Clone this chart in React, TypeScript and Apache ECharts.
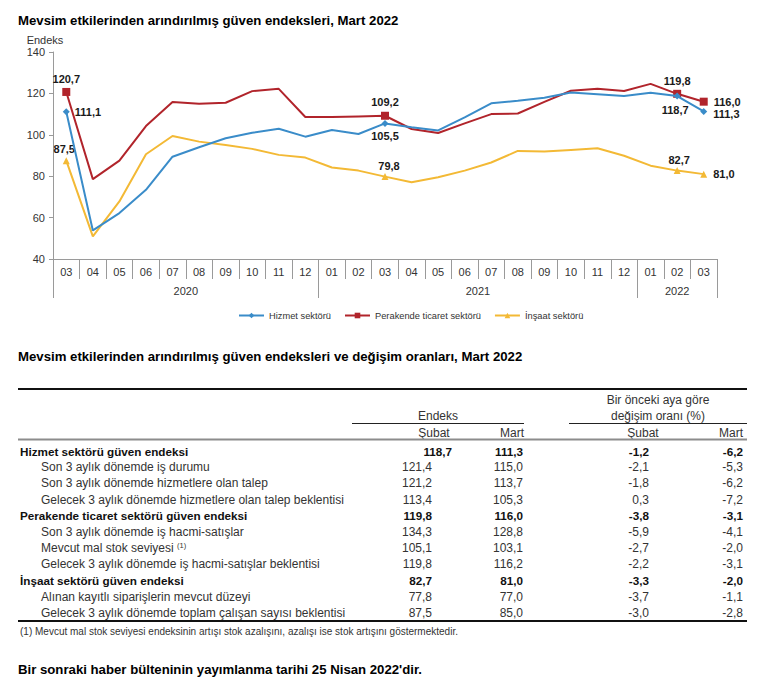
import React, { useEffect, useRef } from 'react';
import * as echarts from 'echarts';

// ---------- chart data ----------
const months = ['03','04','05','06','07','08','09','10','11','12','01','02','03','04','05','06','07','08','09','10','11','12','01','02','03'];
const firstYear = 2020;
const seriesNames = ['Hizmet sektörü', 'Perakende ticaret sektörü', 'İnşaat sektörü'];
const hizmet = [111.1, 53.8, 62.2, 73.4, 89.4, 94.0, 98.3, 101.0, 102.9, 99.1, 102.3, 100.4, 105.5, 103.6, 102.1, 108.4, 115.2, 116.4, 117.9, 120.4, 119.6, 118.8, 120.3, 118.7, 111.3];
const perakende = [120.7, 78.6, 87.5, 104.2, 115.9, 115.0, 115.5, 121.1, 122.2, 108.6, 108.6, 108.9, 109.2, 102.8, 100.9, 105.5, 110.0, 110.3, 115.9, 121.3, 122.2, 121.2, 124.6, 119.8, 116.0];
const insaat = [87.5, 50.9, 67.8, 90.6, 99.4, 96.7, 95.1, 93.2, 90.3, 89.0, 84.2, 82.7, 79.8, 77.1, 79.5, 82.7, 86.6, 92.2, 91.9, 92.7, 93.5, 89.9, 85.1, 82.7, 81.0];
const yTicks = [40, 60, 80, 100, 120, 140];

// ---------- table data ----------
const rowLabels = [
  'Hizmet sektörü güven endeksi',
  'Son 3 aylık dönemde iş durumu',
  'Son 3 aylık dönemde hizmetlere olan talep',
  'Gelecek 3 aylık dönemde hizmetlere olan talep beklentisi',
  'Perakende ticaret sektörü güven endeksi',
  'Son 3 aylık dönemde iş hacmi-satışlar',
  'Mevcut mal stok seviyesi',
  'Gelecek 3 aylık dönemde iş hacmi-satışlar beklentisi',
  'İnşaat sektörü güven endeksi',
  'Alınan kayıtlı siparişlerin mevcut düzeyi',
  'Gelecek 3 aylık dönemde toplam çalışan sayısı beklentisi',
];
const rowLevel = [0, 1, 1, 1, 0, 1, 1, 1, 0, 1, 1];
const rowNote = ['', '', '', '', '', '', '(1)', '', '', '', ''];
const endeksSubat = [118.7, 121.4, 121.2, 113.4, 119.8, 134.3, 105.1, 119.8, 82.7, 77.8, 87.5];
const endeksMart = [111.3, 115.0, 113.7, 105.3, 116.0, 128.8, 103.1, 116.2, 81.0, 77.0, 85.0];
const degisimSubat = [-1.2, -2.1, -1.8, 0.3, -3.8, -5.9, -2.7, -2.2, -3.3, -3.7, -3.0];
const degisimMart = [-6.2, -5.3, -6.2, -7.2, -3.1, -4.1, -2.0, -3.1, -2.0, -1.1, -2.8];

const title1 = 'Mevsim etkilerinden arındırılmış güven endeksleri, Mart 2022';
const title2 = 'Mevsim etkilerinden arındırılmış güven endeksleri ve değişim oranları, Mart 2022';
const footnote = '(1) Mevcut mal stok seviyesi endeksinin artışı stok azalışını, azalışı ise stok artışını göstermektedir.';
const closing = "Bir sonraki haber bülteninin yayımlanma tarihi 25 Nisan 2022'dir.";

// ---------- styles ----------
const FONT = "'Liberation Sans', Arial, sans-serif";
const COLORS = ['#3A8CC9', '#B1242B', '#F3B935'];
const SYMBOLS = ['diamond', 'rect', 'triangle'];
const SYMBOL_SIZES = [7, 8, 7];
type LabelCfg = { position: string; offset?: number[]; distance?: number };
const labelCfgs: Record<number, LabelCfg>[] = [
  { 0: { position: 'right', distance: 5 }, 12: { position: 'bottom', distance: 4 }, 23: { position: 'bottom', distance: 5, offset: [-2, 0] }, 24: { position: 'right', distance: 6, offset: [0, 3] } },
  { 0: { position: 'top', distance: 3 }, 12: { position: 'top', distance: 4 }, 23: { position: 'top', distance: 3 }, 24: { position: 'right', distance: 6 } },
  { 0: { position: 'top', distance: 3, offset: [-2, 0] }, 12: { position: 'top', distance: 2, offset: [4, 0] }, 23: { position: 'top', distance: 2, offset: [2, 0] }, 24: { position: 'right', distance: 6 } },
];

const fmt = (v: number) => v.toFixed(1).replace('.', ',');

function buildData(values: number[], cfg: Record<number, LabelCfg>, size: number) {
  return values.map((v, i) => {
    const c = cfg[i];
    if (!c) return { value: v, symbolSize: 0 };
    return {
      value: v,
      symbolSize: size,
      label: { show: true, position: c.position, distance: c.distance ?? 4, offset: c.offset || [0, 0] },
    };
  });
}

function txt(x: number, y: number, text: string, opts: any = {}) {
  const align = opts.align || 'left';
  return {
    type: 'text',
    x,
    y,
    silent: true,
    style: {
      text,
      fill: opts.color || '#1a1a1a',
      font: `${opts.bold ? 'bold ' : ''}${opts.size || 12}px ${FONT}`,
      align,
      textAlign: align,
      verticalAlign: 'middle',
      textVerticalAlign: 'middle',
      rich: opts.rich,
    },
  };
}

function hline(x1: number, x2: number, y: number, color: string, w: number) {
  return { type: 'line', silent: true, shape: { x1, y1: y, x2, y2: y }, style: { stroke: color, lineWidth: w } };
}

function buildTable(): any[] {
  const els: any[] = [];
  const L = 18, R = 747;
  els.push(txt(18, 20, title1, { bold: true, size: 13.2, color: '#000' }));
  els.push(txt(18, 356, title2, { bold: true, size: 13.2, color: '#000' }));
  els.push(hline(L, R, 389, '#111', 2));
  els.push(txt(658, 400, 'Bir önceki aya göre', { align: 'center', color: '#333' }));
  els.push(txt(658, 416, 'değişim oranı (%)', { align: 'center', color: '#333' }));
  els.push(txt(438, 416, 'Endeks', { align: 'center', color: '#333' }));
  els.push(hline(352, 524, 423.5, '#222', 1));
  els.push(hline(569, R, 423.5, '#222', 1));
  els.push(txt(434, 433, 'Şubat', { align: 'center', color: '#333' }));
  els.push(txt(524, 433, 'Mart', { align: 'right', color: '#333' }));
  els.push(txt(643, 433, 'Şubat', { align: 'center', color: '#333' }));
  els.push(txt(743, 433, 'Mart', { align: 'right', color: '#333' }));
  els.push(hline(L, R, 439.5, '#8c8c8c', 2));
  const y0 = 451, step = 16.2;
  rowLabels.forEach((label, i) => {
    const y = y0 + step * i;
    const bold = rowLevel[i] === 0;
    const color = bold ? '#111' : '#333';
    const x = bold ? 20 : 41;
    const fs = bold ? 11.7 : 12;
    if (rowNote[i]) {
      els.push(txt(x, y, `{a|${label}} {n|${rowNote[i]}}`, {
        bold, color, size: fs,
        rich: {
          a: { font: `${bold ? 'bold ' : ''}${fs}px ${FONT}`, fill: color, lineHeight: 14 },
          n: { font: `7.5px ${FONT}`, fill: color, padding: [0, 0, 6, 0] },
        },
      }));
    } else {
      els.push(txt(x, y, label, { bold, color, size: fs }));
    }
    const subRight = i === 0 ? 452 : 432;
    els.push(txt(subRight, y, fmt(endeksSubat[i]), { bold, color, align: 'right', size: fs }));
    els.push(txt(523, y, fmt(endeksMart[i]), { bold, color, align: 'right', size: fs }));
    els.push(txt(649, y, fmt(degisimSubat[i]), { bold, color, align: 'right', size: fs }));
    els.push(txt(743, y, fmt(degisimMart[i]), { bold, color, align: 'right', size: fs }));
  });
  els.push(hline(L, R, 621, '#111', 2));
  els.push(txt(20, 631, footnote, { size: 10, color: '#333' }));
  els.push(txt(18, 669, closing, { bold: true, size: 13.2, color: '#000' }));
  return els;
}

export default function App() {
  const ref = useRef<HTMLDivElement>(null);
  useEffect(() => {
    if (!ref.current) return;
    const chart = echarts.init(ref.current, undefined, { renderer: 'svg' });
    const values = [hizmet, perakende, insaat];

    // year grouping derived from month list
    const yearOfIdx: number[] = [];
    let yr = firstYear;
    months.forEach((m, i) => {
      if (i > 0 && m === '01') yr += 1;
      yearOfIdx.push(yr);
    });
    const yearStarts = yearOfIdx.map((y, i) => (i === 0 || y !== yearOfIdx[i - 1] ? i : -1)).filter((i) => i >= 0);

    const axisColor = '#9a9a9a';
    chart.setOption({
      animation: false,
      textStyle: { fontFamily: FONT },
      grid: { left: 53, top: 52, right: 44, bottom: 427, containLabel: false },
      legend: {
        left: 238,
        top: 311,
        padding: 0,
        itemWidth: 25,
        itemHeight: 7,
        itemGap: 13,
        selectedMode: false,
        textStyle: { fontSize: 9.3, color: '#333', fontFamily: FONT },
        data: seriesNames,
      },
      xAxis: [
        {
          type: 'category',
          data: months,
          position: 'bottom',
          offset: 0,
          axisLine: { show: true, lineStyle: { color: axisColor, width: 1 } },
          axisTick: { show: true, interval: 0, length: 20, lineStyle: { color: axisColor } },
          axisLabel: { interval: 0, margin: 7, fontSize: 11, color: '#333', fontFamily: FONT },
        },
        {
          type: 'category',
          data: months,
          position: 'bottom',
          offset: 0,
          axisLine: { show: false },
          axisTick: { show: true, interval: (i: number) => yearStarts.includes(i), length: 39, lineStyle: { color: axisColor } },
          axisLabel: { show: false },
        },
      ],
      yAxis: {
        type: 'value',
        min: 40,
        max: 140,
        interval: 20,
        name: 'Endeks',
        nameLocation: 'end',
        nameGap: 7,
        nameTextStyle: { fontSize: 11, color: '#333', align: 'center', padding: [0, 16, 0, 0], fontFamily: FONT },
        axisLine: { show: true, lineStyle: { color: axisColor } },
        axisTick: { show: true, length: 4, lineStyle: { color: axisColor } },
        axisLabel: { margin: 8, fontSize: 11, color: '#333', fontFamily: FONT, customValues: yTicks },
        splitLine: { show: false },
      },
      series: values.map((vals, s) => ({
        name: seriesNames[s],
        type: 'line',
        xAxisIndex: 0,
        data: buildData(vals, labelCfgs[s], SYMBOL_SIZES[s]),
        symbol: SYMBOLS[s],
        showSymbol: true,
        silent: true,
        emphasis: { disabled: true },
        lineStyle: { color: COLORS[s], width: 2 },
        itemStyle: { color: COLORS[s] },
        label: {
          show: false,
          formatter: (p: any) => fmt(p.value),
          fontSize: 11,
          fontWeight: 'bold',
          color: '#1a1a1a',
          fontFamily: FONT,
        },
        z: 3 - s,
      })),
    });

    // year labels under the month row, positioned through the axis scale
    const axisY = chart.convertToPixel({ yAxisIndex: 0 }, 40) as number;
    const yearEls: any[] = [];
    yearStarts.forEach((start, k) => {
      const end = k + 1 < yearStarts.length ? yearStarts[k + 1] - 1 : months.length - 1;
      const xs = chart.convertToPixel({ xAxisIndex: 0 }, start) as number;
      const xe = chart.convertToPixel({ xAxisIndex: 0 }, end) as number;
      yearEls.push(txt((xs + xe) / 2, axisY + 32, String(yearOfIdx[start]), { align: 'center', color: '#333', size: 11 }));
    });

    chart.setOption({ graphic: { elements: [...yearEls, ...buildTable()] } });
    return () => chart.dispose();
  }, []);
  return <div ref={ref} style={{ position: 'absolute', left: 0, top: 0, width: 761, height: 686, background: '#fff' }} />;
}
